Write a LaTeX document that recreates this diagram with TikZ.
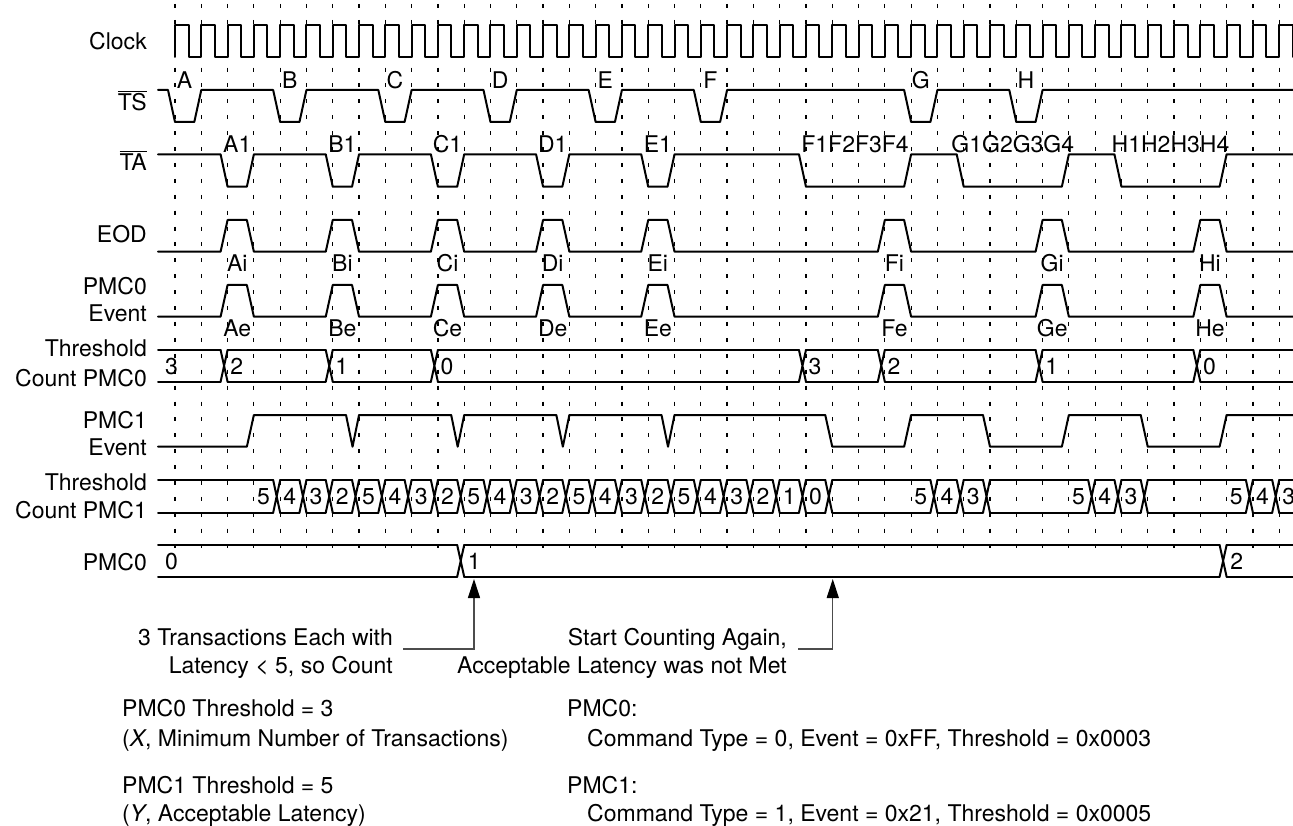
\documentclass[tikz,border=0pt]{standalone}
\usepackage{fontspec}
\setmainfont{TeX Gyre Heros}
\usetikzlibrary{arrows.meta}
\newcommand\ovl[1]{\vbox{\hrule height 1.3pt\kern 1.8pt\hbox{#1}}}
\newcommand\busline[4]{%
  \foreach \t [remember=\t as \p (initially -0.6466)] in {#3} {
    \draw[sig] ({gx(\p)},#1) -- ({gx(\t)-7},#1) ({gx(\p)},#2) -- ({gx(\t)-7},#2);
    \draw[sig] ({gx(\t)-7},#1) -- ({gx(\t)},#2) ({gx(\t)-7},#2) -- ({gx(\t)},#1);
  }
  \draw[sig] ({gx(#4)},#1) -- (1300,#1) ({gx(#4)},#2) -- (1300,#2);
}
\begin{document}
\begin{tikzpicture}[x=1pt,y=-1pt,
  declare function={gx(\q)=175+26.29*\q;},
  sig/.style={line width=2pt, line join=round, line cap=round},
  gridline/.style={line width=1.2pt, dash pattern=on 4pt off 11.9pt},
  lbl/.style={font=\fontsize{23}{26}\selectfont, inner sep=0pt},
  conn/.style={line width=1.2pt, draw=black!70},
  tip/.style={-{Triangle[length=19pt,width=12pt,color=black]}}
]
\useasboundingbox (0,0) rectangle (1293,826);
\fill[white] (0,0) rectangle (1293,826);

% grid
\foreach \k in {0,...,42} \draw[gridline] ({gx(\k)},4) -- ({gx(\k)},548);

% clock
\draw[sig] ({gx(0)},57) \foreach \k in {0,...,42} { -- ({gx(\k)},25) -- ({gx(\k)+13.5},25) -- ({gx(\k)+13.5},57) -- ({gx(\k+1)},57) };

% TS
\draw[sig] (158,90) \foreach \k in {0,4,8,12,16,20,28,32} { -- ({gx(\k)-7},90) -- ({gx(\k)},122) -- ({gx(\k+1)-7},122) -- ({gx(\k+1)},90) } -- (1300,90);

% TA
\draw[sig] (158,154.3) \foreach \a/\b in {2/3,6/7,10/11,14/15,18/19,24/28,30/34,36/40} { -- ({gx(\a)-7},154.3) -- ({gx(\a)},186.7) -- ({gx(\b)-7},186.7) -- ({gx(\b)},154.3) } -- (1300,154.3);

% EOD
\draw[sig] (158,251.7) \foreach \a/\b in {2/3,6/7,10/11,14/15,18/19,27/28,33/34,39/40} { -- ({gx(\a)-7},251.7) -- ({gx(\a)},220) -- ({gx(\b)-7},220) -- ({gx(\b)},251.7) } -- (1300,251.7);

% PMC0 Event
\draw[sig] (158,316.7) \foreach \a/\b in {2/3,6/7,10/11,14/15,18/19,27/28,33/34,39/40} { -- ({gx(\a)-7},316.7) -- ({gx(\a)},285) -- ({gx(\b)-7},285) -- ({gx(\b)},316.7) } -- (1300,316.7);

% Threshold Count PMC0
\busline{350}{381.7}{2,6,10,24,27,33,39}{39}

% PMC1 Event
\draw[sig] (158,446.7) -- ({gx(3)-7},446.7) -- ({gx(3)},415)
  \foreach \k in {7,11,15,19} { -- ({gx(\k)-13},415) -- ({gx(\k)-6.5},446.7) -- ({gx(\k)},415) }
  -- ({gx(25)-7},415) -- ({gx(25)},446.7) -- ({gx(28)-7},446.7) -- ({gx(28)},415)
  -- ({gx(31)-7},415) -- ({gx(31)},446.7) -- ({gx(34)-7},446.7) -- ({gx(34)},415)
  -- ({gx(37)-7},415) -- ({gx(37)},446.7) -- ({gx(40)-7},446.7) -- ({gx(40)},415) -- (1300,415);

% Threshold Count PMC1
\busline{480}{512.7}{4,5,6,7,8,9,10,11,12,13,14,15,16,17,18,19,20,21,22,23,24,25,29,30,31,35,36,37,41,42}{42}

% PMC0 counter
\busline{545}{576.7}{11,40}{40}

% left labels
\node[lbl,anchor=base east] (lclk) at (147,49.5) {Clock};
\node[lbl,anchor=base east] (lts) at (147,111) {\ovl{TS}};
\node[lbl,anchor=base east] (lta) at (147,171) {\ovl{TA}};
\node[lbl,anchor=base east] (leod) at (147,243) {EOD};
\node[lbl,anchor=base east] (lpe0a) at (147,295) {PMC0};
\node[lbl,anchor=base east] (lpe0b) at (147,321.7) {Event};
\node[lbl,anchor=base east] (ltc0a) at (147,356.7) {Threshold};
\node[lbl,anchor=base east] (ltc0b) at (147,386.7) {Count PMC0};
\node[lbl,anchor=base east] (lpe1a) at (147,428) {PMC1};
\node[lbl,anchor=base east] (lpe1b) at (147,455) {Event};
\node[lbl,anchor=base east] (ltc1a) at (147,490) {Threshold};
\node[lbl,anchor=base east] (ltc1b) at (147,518) {Count PMC1};
\node[lbl,anchor=base east] (lpmc0) at (147,570) {PMC0};

% waveform labels
\foreach \k/\l in {0/A,4/B,8/C,12/D,16/E,20/F,28/G,32/H}
  \node[lbl,anchor=base] (ts\l) at ({gx(\k)+9.6},89) {\l};
\foreach \a/\b/\l in {2/3/A1,6/7/B1,10/11/C1,14/15/D1,18/19/E1,24/28/F1F2F3F4,30/34/G1G2G3G4,36/40/H1H2H3H4}
  \node[lbl,anchor=base] (ta\a) at ({(gx(\a)+gx(\b)-7)/2},153) {\l};
\foreach \a/\b/\l in {2/3/A,6/7/B,10/11/C,14/15/D,18/19/E,27/28/F,33/34/G,39/40/H} {
  \node[lbl,anchor=base] (ei\l) at ({(gx(\a)+gx(\b)-7)/2},271.7) {\l i};
  \node[lbl,anchor=base] (ee\l) at ({(gx(\a)+gx(\b)-7)/2},336.7) {\l e};
}
\node[lbl,anchor=base west] (tcs) at (165,374) {3};
\foreach \t/\v in {2/2,6/1,10/0,24/3,27/2,33/1,39/0}
  \node[lbl,anchor=base west] (tc\t) at ({gx(\t)+2.5},374) {\v};
\foreach \k/\v in {3/5,4/4,5/3,6/2,7/5,8/4,9/3,10/2,11/5,12/4,13/3,14/2,15/5,16/4,17/3,18/2,19/5,20/4,21/3,22/2,23/1,24/0,28/5,29/4,30/3,34/5,35/4,36/3,40/5,41/4,42/3}
  \node[lbl,anchor=base] (tp\k) at ({gx(\k)+9.6},504) {\v};
\node[lbl,anchor=base west] (pc0) at (165,569) {0};
\node[lbl,anchor=base west] (pc1) at ({gx(11)+3.5},569) {1};
\node[lbl,anchor=base west] (pc2) at ({gx(40)+3.5},569) {2};

% annotations
\node[lbl,anchor=base east] (n3t) at (393,645) {3 Transactions Each with};
\node[lbl,anchor=base east] (nlat) at (393,673) {Latency < 5, so Count};
\node[lbl,anchor=base east] (nstart) at (787,645) {Start Counting Again,};
\node[lbl,anchor=base east] (nacc) at (787,673) {Acceptable Latency was not Met};
\node[lbl,anchor=base west] (nt0) at (122,716) {PMC0 Threshold = 3};
\node[lbl,anchor=base west] (nx) at (122,746) {(\textit{X}, Minimum Number of Transactions)};
\node[lbl,anchor=base west] (nt1) at (122,793) {PMC1 Threshold = 5};
\node[lbl,anchor=base west] (ny) at (122,821) {(\textit{Y}, Acceptable Latency)};
\node[lbl,anchor=base west] (np0) at (567,716) {PMC0:};
\node[lbl,anchor=base west] (nc0) at (587,746) {Command Type = 0, Event = 0xFF, Threshold = 0x0003};
\node[lbl,anchor=base west] (np1) at (567,793) {PMC1:};
\node[lbl,anchor=base west] (nc1) at (587,821) {Command Type = 1, Event = 0x21, Threshold = 0x0005};

% connectors
\coordinate (c1s) at (403,649);
\coordinate (c1k) at ({gx(11)+9.8},649);
\coordinate (c1t) at ({gx(11)+9.8},579);
\draw[conn,tip] (c1s) -- (c1k) -- (c1t);
\coordinate (c2s) at (798,649);
\coordinate (c2k) at ({gx(25)+0.5},649);
\coordinate (c2t) at ({gx(25)+0.5},579);
\draw[conn,tip] (c2s) -- (c2k) -- (c2t);
\end{tikzpicture}
\end{document}
